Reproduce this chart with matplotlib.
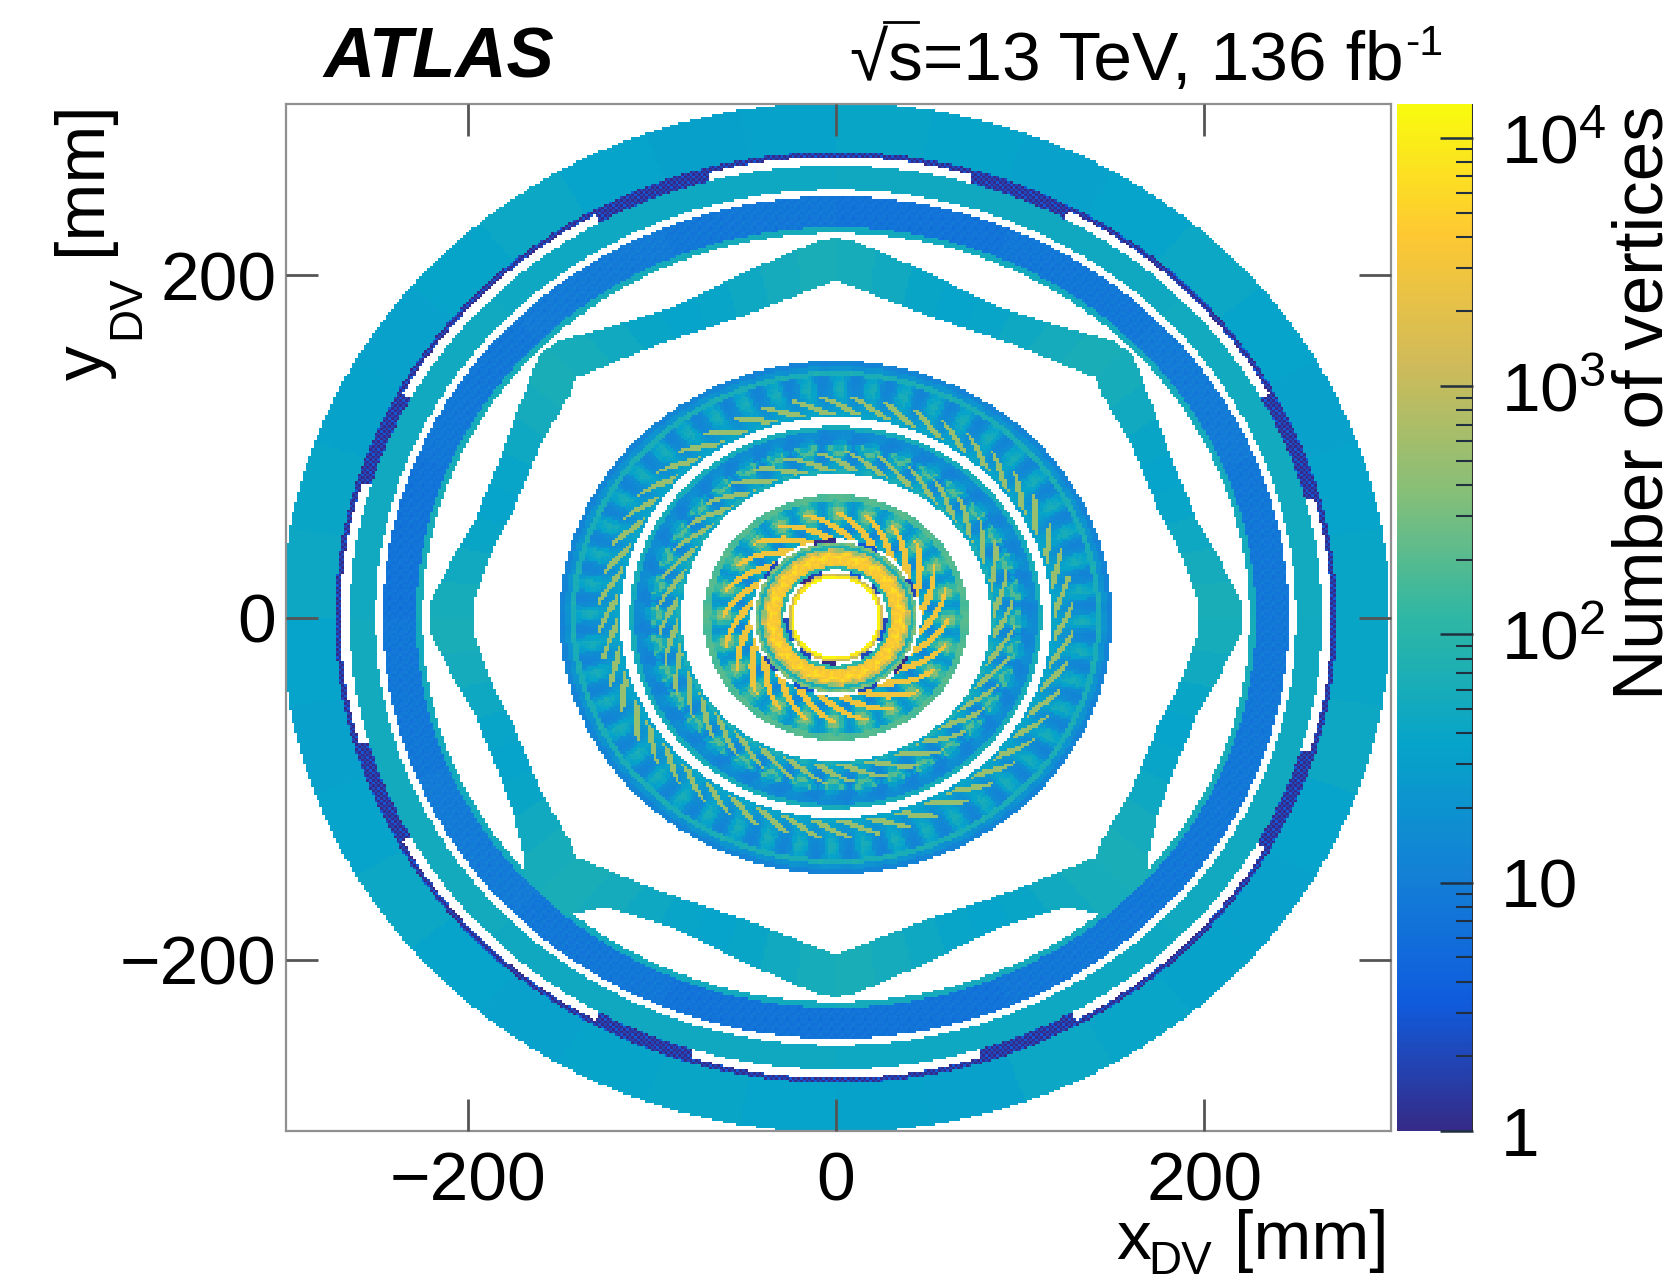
import numpy as np
from matplotlib import pyplot as plt
from matplotlib.colors import LinearSegmentedColormap, LogNorm
from matplotlib.lines import Line2D
from matplotlib.path import Path

plt.rcParams['font.family'] = ['Liberation Sans', 'DejaVu Sans']
plt.rcParams['mathtext.fontset'] = 'custom'
plt.rcParams['mathtext.rm'] = 'Liberation Sans'
plt.rcParams['mathtext.it'] = 'Liberation Sans'
plt.rcParams['mathtext.bf'] = 'Liberation Sans:bold'

W, H = 1674, 1283
N_BINS = 400
RANGE_MM = 300
Z_MIN, Z_MAX = 1, 13700

# ROOT bird palette
BIRD_RED = [0.2082, 0.0592, 0.0780, 0.0232, 0.1802, 0.5301, 0.8186, 0.9956, 0.9764]
BIRD_GREEN = [0.1664, 0.3599, 0.5041, 0.6419, 0.7178, 0.7492, 0.7328, 0.7862, 0.9832]
BIRD_BLUE = [0.5293, 0.8684, 0.8385, 0.7914, 0.6425, 0.4662, 0.3499, 0.1968, 0.0539]

# counts, by angle sector (counter clockwise from +x)
OUTER_RING = [40, 36, 33, 36, 42, 36, 33, 37, 40, 34, 32, 35, 42, 37, 33, 34, 39, 44,
              36, 33, 36, 42, 36, 33, 37, 40, 36, 34, 33, 42, 38, 34, 33, 36, 44, 40]
GREEN_RING = [52, 48, 46, 50, 54, 48, 46, 50]
BLUE_RING = [8, 9, 8, 7, 8, 9, 8, 7, 8, 9, 8, 7, 7, 8, 8, 8]
INNER_GREEN_RING = [56, 54, 58, 60, 54, 52, 56, 60]
OCTANT_VALUES = [62, 56, 46, 38, 36, 40, 50, 60]
DARK_SPECKLE = [[1, 2, 1, 3], [2, 1, 3, 1], [1, 2, 1, 2], [3, 1, 2, 1]]
BLUE_TEXTURE = [[1.0, 1.2, 0.9, 1.1], [0.9, 1.0, 1.3, 0.9], [1.2, 0.9, 1.0, 1.1], [1.0, 1.1, 0.8, 1.0]]

# dark strip at r = 264-269, sectors in degrees (start, stop)
DARK_SECTORS = [(15, 29), (62, 74), (105, 119), (151, 163), (196, 209), (241, 253), (287, 299), (330, 343)]

# octagon outline in mm, quarter from +x to +y, the other quarters mirror it
OCT_OUTER_UP = [(221, 0), (221, 8), (207, 37), (196, 57), (189, 76), (181, 96), (175, 115), (161, 154),
                (150, 162), (125, 169), (89, 181), (47, 203), (9, 220.5), (0, 221.6)]
OCT_OUTER_LOW = [(221, 0), (221, 8), (207, 37), (196, 57), (189, 76), (181, 96), (175, 115), (169, 142),
                 (172, 165), (155, 176), (142, 173), (125, 169), (89, 181), (47, 203), (9, 220.5), (0, 221.6)]
OCT_INNER = [(197, 0), (196, 12), (185, 43), (175, 63), (160, 102), (145, 129), (141, 140),
             (95, 160), (48, 177), (0, 197)]

# repeating cell of each inner ring: rows run from inner to outer radius
RING_A = [[35, 30, 28, 30, 35, 40, 40, 35],
          [28, 24, 22, 24, 28, 32, 32, 30],
          [26, 22, 18, 20, 24, 30, 34, 30],
          [24, 18, 16, 16, 22, 30, 38, 30],
          [30, 18, 15, 14, 18, 36, 55, 42],
          [42, 18, 14, 13, 16, 34, 65, 60],
          [36, 16, 13, 12, 15, 30, 55, 48],
          [28, 16, 13, 12, 15, 24, 42, 36],
          [65, 60, 65, 65, 75, 65, 65, 65],
          [20, 18, 17, 18, 20, 22, 22, 20],
          [12, 12, 11, 12, 13, 13, 13, 12]]
RING_B = [[50, 40, 35, 40, 60, 70, 70, 60],
          [40, 30, 22, 18, 22, 30, 40, 45],
          [30, 22, 16, 14, 16, 22, 30, 35],
          [40, 22, 14, 13, 14, 22, 60, 60],
          [150, 40, 16, 12, 14, 50, 180, 220],
          [60, 150, 30, 14, 30, 170, 60, 50],
          [25, 14, 13, 12, 13, 30, 30, 25],
          [13, 12, 11, 12, 16, 18, 20, 16],
          [15, 14, 13, 14, 16, 16, 16, 15],
          [60, 55, 50, 55, 60, 60, 60, 60]]
RING_C = [[40, 30, 20, 15, 20, 30, 45, 50],
          [45, 25, 14, 13, 16, 30, 60, 70],
          [90, 40, 20, 16, 20, 40, 90, 120],
          [250, 90, 30, 22, 30, 90, 250, 320],
          [300, 120, 35, 20, 30, 110, 300, 380],
          [120, 60, 30, 22, 28, 50, 110, 150],
          [200, 190, 170, 150, 170, 190, 200, 210]]
RING_D = [[90, 80, 110, 130, 90, 80, 110, 130],
          [2800, 3800, 4500, 3800, 2800, 2000, 2400, 2600],
          [3800, 5000, 4500, 3200, 3800, 5500, 5000, 3800],
          [5500, 4500, 3200, 3800, 5000, 6500, 7000, 6500],
          [3000, 3800, 5000, 6500, 4500, 3000, 2200, 2500],
          [700, 1200, 2000, 1500, 800, 500, 400, 500],
          [70, 80, 90, 100, 80, 70, 60, 70],
          [300, 300, 400, 400, 300, 200, 200, 300]]
HOLE_RIM = [11000, 9000, 12000, 8000, 10000, 12000, 9000, 11000]
HOLE_RIM_2 = [1500, 1000, 1800, 1200, 900, 1600, 1100, 1400]
# 0 means an empty bin
INNER_GAP = [0, 0, 2, 0, 3, 0, 0, 2, 1, 0, 0, 0, 2, 3, 0, 2, 0, 1, 0, 0, 2, 0, 3, 2]
MID_GAP = [0, 2, 0, 0, 3, 0, 1, 0, 0, 2, 0, 0, 0, 0, 2, 0, 3, 0, 0, 2, 0, 1, 0, 0]

# gold blades: r_start, r_stop, angle swept (deg), blades, blade width (part of a period), count
BLADES_A = (119, 129, 10, 48, 0.5, 500)
BLADES_B = (86, 97, 15, 36, 0.5, 500)
BLADES_C = (46, 62, 28, 24, 0.55, 2800)

X_TICKS = [-200, 0, 200]
Y_TICKS = [-200, 0, 200]
TICK_LABELS = ['\u2212200', '0', '200']
CB_MAJOR = [1, 10, 100, 1000, 10000]
CB_LABELS = ['1', '10', r'10$^{2}$', r'10$^{3}$', r'10$^{4}$']
CB_MINOR = [2, 3, 4, 5, 6, 7, 8, 9, 20, 30, 40, 50, 60, 70, 80, 90, 200, 300, 400, 500,
            600, 700, 800, 900, 2000, 3000, 4000, 5000, 6000, 7000, 8000, 9000]


def px(x, y):
    return x / W, 1 - y / H


edges = np.linspace(-RANGE_MM, RANGE_MM, N_BINS + 1)
centers = (edges[:-1] + edges[1:]) / 2
X, Y = np.meshgrid(centers, centers)
R = np.hypot(X, Y)
PHI = np.degrees(np.arctan2(Y, X)) % 360
IY, IX = np.indices(X.shape)
counts = np.full(X.shape, np.nan)


def fill_band(r_in, r_out, values):
    values = np.asarray(values, dtype=float)
    mask = (R >= r_in) & (R < r_out)
    idx = (PHI / 360 * len(values)).astype(int) % len(values)
    counts[mask] = values[idx[mask]]


def fill_cell(r_in, r_out, n_periods, cell):
    cell = np.asarray(cell, dtype=float)
    mask = (R >= r_in) & (R < r_out)
    rows = np.clip(((R - r_in) / (r_out - r_in) * cell.shape[0]).astype(int), 0, cell.shape[0] - 1)
    cols = ((PHI * n_periods / 360) % 1 * cell.shape[1]).astype(int) % cell.shape[1]
    counts[mask] = cell[rows[mask], cols[mask]]


def fill_blades(r_start, r_stop, sweep, n_blades, width, value):
    u = (R - r_start) / (r_stop - r_start)
    frac = ((PHI - sweep * u) * n_blades / 360) % 1
    mask = (u >= 0) & (u < 1) & (frac < width * (1 - 0.5 * u))
    counts[mask] = value


def quadrant_mask(up_points, low_points):
    # walk round the four quarters
    up = np.array(up_points, dtype=float)
    low = np.array(low_points, dtype=float)
    verts = np.vstack([up, up[::-1] * [-1, 1], low * [-1, -1], low[::-1] * [1, -1]])
    return Path(verts).contains_points(np.column_stack([X.ravel(), Y.ravel()])).reshape(X.shape)


# outer rings
fill_band(272, 301, OUTER_RING)
tile = np.array(DARK_SPECKLE, dtype=float)[IY % 4, IX % 4]
dark = (R >= 269) & (R < 272)
counts[dark] = tile[dark]
for a, b in DARK_SECTORS:
    m = (R >= 264) & (R < 269) & (PHI >= a) & (PHI < b)
    counts[m] = tile[m]
fill_band(250, 264, GREEN_RING)
fill_band(228, 246, BLUE_RING)
m = (R >= 228) & (R < 246)
counts[m] = counts[m] * np.array(BLUE_TEXTURE)[IY % 4, IX % 4][m]
fill_band(224.5, 228, INNER_GREEN_RING)

# octagon, the two lower corners run into the rings
octagon = quadrant_mask(OCT_OUTER_UP, OCT_OUTER_LOW) & ~quadrant_mask(OCT_INNER, OCT_INNER)
octagon &= ~((R >= 228) & (Y < 0))
octagon_idx = (PHI / 45 * len(OCTANT_VALUES)).astype(int) % len(OCTANT_VALUES)
counts[octagon] = np.array(OCTANT_VALUES, dtype=float)[octagon_idx[octagon]]

# inner layers
fill_cell(117, 150, 48, RING_A)
fill_blades(*BLADES_A)
fill_cell(84, 112, 36, RING_B)
fill_blades(*BLADES_B)
fill_cell(46, 72, 24, RING_C)
fill_blades(*BLADES_C)
fill_band(44, 46, MID_GAP)
fill_cell(28, 44, 24, RING_D)
fill_band(26, 28, INNER_GAP)
fill_band(24.5, 26, HOLE_RIM_2)
fill_band(23, 24.5, HOLE_RIM)
counts[counts == 0] = np.nan

bird = LinearSegmentedColormap.from_list('bird', list(zip(BIRD_RED, BIRD_GREEN, BIRD_BLUE)), N=255)

fig = plt.figure(figsize=(W / 100, H / 100), dpi=100)
left, right, top, bottom = 286, 1391, 104, 1131
ax = fig.add_axes([left / W, 1 - bottom / H, (right - left) / W, (bottom - top) / H])
mesh = ax.pcolormesh(edges, edges, np.ma.masked_invalid(counts), cmap=bird, norm=LogNorm(Z_MIN, Z_MAX), linewidth=0)
ax.set_xlim(-298.6, 301.4)
ax.set_ylim(-RANGE_MM, RANGE_MM)
ax.set_xticks(X_TICKS, TICK_LABELS)
ax.set_yticks(Y_TICKS, TICK_LABELS)
ax.tick_params(direction='in', top=True, right=True, length=23, width=2, color='#555555',
               labelsize=50, labelcolor='black')
ax.tick_params(axis='x', pad=14)
ax.tick_params(axis='y', pad=7)
ax.set_axisbelow(False)
for s in ax.spines.values():
    s.set_color('#909090')
    s.set_linewidth(1.6)

cax = fig.add_axes([1397 / W, 1 - bottom / H, (1473 - 1397) / W, (bottom - top) / H])
cb = fig.colorbar(mesh, cax=cax)
cb.outline.set_visible(False)
cb.set_ticks(CB_MAJOR, labels=CB_LABELS)
cax.yaxis.set_ticks(CB_MINOR, minor=True)
cax.yaxis.set_ticklabels([], minor=True)
cax.tick_params(which='major', direction='in', right=True, left=False, length=24, width=1.8,
                color='#203040', labelsize=50, pad=20)
cax.tick_params(which='minor', direction='in', right=True, left=False, length=12, width=1.5, color='#203040')
cax.axvline(1, color='#303030', lw=2.2)

fig.text(*px(323, 78), 'ATLAS', fontsize=51, fontweight='bold', fontstyle='italic', ha='left', va='baseline')
fig.text(*px(1404, 80), '\u221as=13 TeV, 136 fb', fontsize=50, ha='right', va='baseline')
fig.text(*px(1405, 55), '-1', fontsize=31, ha='left', va='baseline')
fig.add_artist(Line2D([884 / W, 918 / W], [1 - 22 / H, 1 - 22 / H], color='black', lw=2))

# axis titles are built from parts, the subscripts sit low in the original
fig.text(*px(1116, 1259), 'x', fontsize=50, ha='left', va='baseline')
fig.text(*px(1148, 1274), 'DV', fontsize=33, ha='left', va='baseline')
fig.text(*px(1389, 1259), '[mm]', fontsize=50, ha='right', va='baseline')
fig.text(*px(100, 100), '[mm]', fontsize=50, rotation=90, ha='right', va='baseline', rotation_mode='anchor')
fig.text(*px(139, 275), 'DV', fontsize=33, rotation=90, ha='right', va='baseline', rotation_mode='anchor')
fig.text(*px(103, 345), 'y', fontsize=50, rotation=90, ha='right', va='baseline', rotation_mode='anchor')
fig.text(*px(1645, 105), 'Number of vertices', fontsize=51, rotation=90, ha='center', va='top')

fig.savefig('out.png', dpi=100)
